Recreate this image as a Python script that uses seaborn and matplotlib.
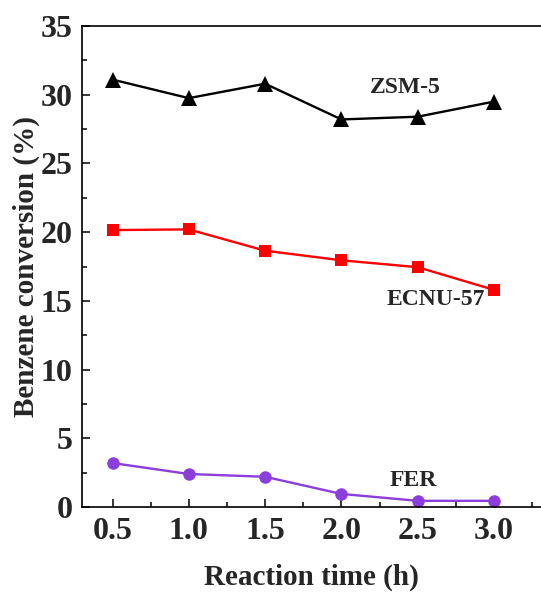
import matplotlib
matplotlib.use("Agg")
import matplotlib.pyplot as plt
from matplotlib.ticker import MultipleLocator
import seaborn as sns
import pandas as pd

# Reaction time (h) and benzene conversion (%) for each catalyst
time_h = [0.5, 1.0, 1.5, 2.0, 2.5, 3.0]
zsm5 = [31.1, 29.75, 30.8, 28.2, 28.4, 29.5]
ecnu57 = [20.15, 20.2, 18.65, 17.95, 17.45, 15.8]
fer = [3.2, 2.4, 2.2, 0.95, 0.45, 0.45]
catalysts = ["ZSM-5", "ECNU-57", "FER"]

df = pd.concat([
    pd.DataFrame({"time": time_h, "conv": vals, "cat": name})
    for name, vals in zip(catalysts, [zsm5, ecnu57, fer])
])

sns.set_theme(style="white")
plt.rcParams["font.family"] = ["Liberation Serif", "DejaVu Serif"]
plt.rcParams["font.weight"] = "bold"

fig = plt.figure(figsize=(5.41, 5.92), dpi=100)
ax = fig.add_axes([82 / 541, 85 / 592, 1 - 82 / 541, (507 - 26) / 592])

palette = {"ZSM-5": "#000000", "ECNU-57": "#FF0000", "FER": "#8B3EDC"}
markers = {"ZSM-5": "^", "ECNU-57": "s", "FER": "o"}
sns.lineplot(data=df, x="time", y="conv", hue="cat", style="cat",
             palette=palette, markers=markers, dashes=False,
             linewidth=1.7, legend=False, ax=ax)
for line, ms in zip(ax.lines, [11, 8.5, 9]):
    line.set_markersize(ms)
    line.set_markeredgewidth(0)

ax.set_xlim(0.3, 3.308)
ax.set_ylim(0, 35)
ax.xaxis.set_major_locator(MultipleLocator(0.5))
ax.xaxis.set_minor_locator(MultipleLocator(0.25))
ax.yaxis.set_major_locator(MultipleLocator(5))
ax.yaxis.set_minor_locator(MultipleLocator(2.5))
ax.tick_params(axis="both", which="major", direction="in", length=6,
               width=1.1, color="black", labelsize=23, pad=7,
               bottom=True, left=True)
ax.tick_params(axis="both", which="minor", direction="in", length=3.5,
               width=1.1, color="black", bottom=True, left=True)
for lab in ax.get_xticklabels() + ax.get_yticklabels():
    lab.set_fontweight("bold")

for side in ["left", "bottom", "top"]:
    ax.spines[side].set_color("black")
    ax.spines[side].set_linewidth(1.2)
ax.spines["right"].set_visible(False)

ax.set_xlabel("Reaction time (h)", fontsize=21, fontweight="bold", labelpad=13)
ax.set_ylabel("Benzene conversion (%)", fontsize=21, fontweight="bold", labelpad=0)

ax.text(2.42, 30.5, "ZSM-5", fontsize=17, fontweight="bold", ha="center", va="center")
ax.text(2.62, 15.1, "ECNU-57", fontsize=17, fontweight="bold", ha="center", va="center")
ax.text(2.47, 1.9, "FER", fontsize=17, fontweight="bold", ha="center", va="center")

fig.savefig("out.png", dpi=100)
